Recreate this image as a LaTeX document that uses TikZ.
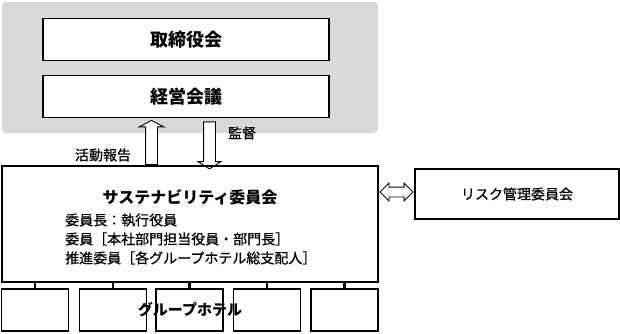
\documentclass[tikz,border=0pt]{standalone}
\usepackage{fontspec}
\usepackage{tikz}
\usetikzlibrary{shapes.arrows, positioning, calc}
\newfontfamily\cjk{Noto Sans CJK JP}
\newfontfamily\cjkm[FakeBold=0.8]{Noto Sans CJK JP}
\definecolor{panelgray}{RGB}{217, 217, 217}

\begin{document}
\begin{tikzpicture}[x=1pt, y=-1pt,
    panel/.style={rectangle, rounded corners=4pt, fill=panelgray, draw=none,
        minimum width=376pt, minimum height=131pt, inner sep=0pt},
    bigbox/.style={rectangle, draw=black, fill=white, line width=1.6pt,
        minimum width=286pt, minimum height=42pt, inner sep=0pt,
        font=\cjk\bfseries\fontsize{18}{20}\selectfont},
    hotel/.style={rectangle, draw=black, line width=1.4pt,
        minimum width=67pt, minimum height=42pt, inner sep=0pt},
    lbl/.style={font=\cjkm\fontsize{14}{19}\selectfont, inner sep=0pt},
    uparr/.style={single arrow, draw=black, fill=white, line width=0.9pt,
        shape border rotate=90, inner sep=5.5pt, single arrow tip angle=125,
        single arrow head extend=6.5pt},
    dnarr/.style={single arrow, draw=black, fill=white, line width=0.9pt,
        shape border rotate=270, inner sep=5.5pt, single arrow tip angle=115,
        single arrow head extend=5.5pt},
    tick/.style={line width=2.6pt, black}
]
\useasboundingbox (0,0) rectangle (620,333);

% Management panel
\node[panel] (mgmt) at (190,67.5) {};
\node[bigbox] (board) at (186,39.5) {取締役会};
\node[bigbox] (exec) at (186,96.5) {経営会議};

% Reporting / supervision arrows
\node[uparr, minimum height=44pt] (report) at (151.5,144) {};
\node[dnarr, minimum height=47pt] (superv) at (209.5,143.5) {};
\node[lbl] (reportlbl) at (103,155) {活動報告};
\node[lbl] (supervlbl) at (242,133) {監督};

% Sustainability committee
\node[rectangle, draw=black, line width=1.6pt, minimum width=376pt,
    minimum height=116pt, inner sep=0pt] (sus) at (190,224) {};
\node[lbl, font=\cjk\bfseries\fontsize{16}{19}\selectfont] (sustitle) at (190,197) {サステナビリティ委員会};
\node[lbl, anchor=west, align=left] (members) at (65,239)
    {委員長：執行役員\\委員［本社部門担当役員・部門長］\\推進委員［各グループホテル総支配人］};

% Risk committee
\node[rectangle, draw=black, line width=1.4pt, minimum width=204pt,
    minimum height=50pt, inner sep=0pt, font=\cjkm\fontsize{14}{19}\selectfont] (risk) at (517,194) {リスク管理委員会};
\node[double arrow, draw=black, fill=white, line width=0.9pt, inner sep=4.5pt,
    minimum height=33pt, double arrow head extend=4pt] (link) at (396.5,192) {};

% Group hotels
\node[hotel] (h1) at (35,310) {};
\node[hotel] (h2) at (113,310) {};
\node[hotel] (h3) at (189.5,310) {};
\node[hotel] (h4) at (267,310) {};
\node[hotel] (h5) at (344.5,310) {};
\node[lbl, font=\cjk\bfseries\fontsize{15}{18}\selectfont] (hotels) at (190,310) {グループホテル};

\draw[tick] (h1.north) -- (h1.north |- sus.south);
\draw[tick] (h2.north) -- (h2.north |- sus.south);
\draw[tick] (h3.north) -- (h3.north |- sus.south);
\draw[tick] (h4.north) -- (h4.north |- sus.south);
\draw[tick] (h5.north) -- (h5.north |- sus.south);

\end{tikzpicture}
\end{document}
